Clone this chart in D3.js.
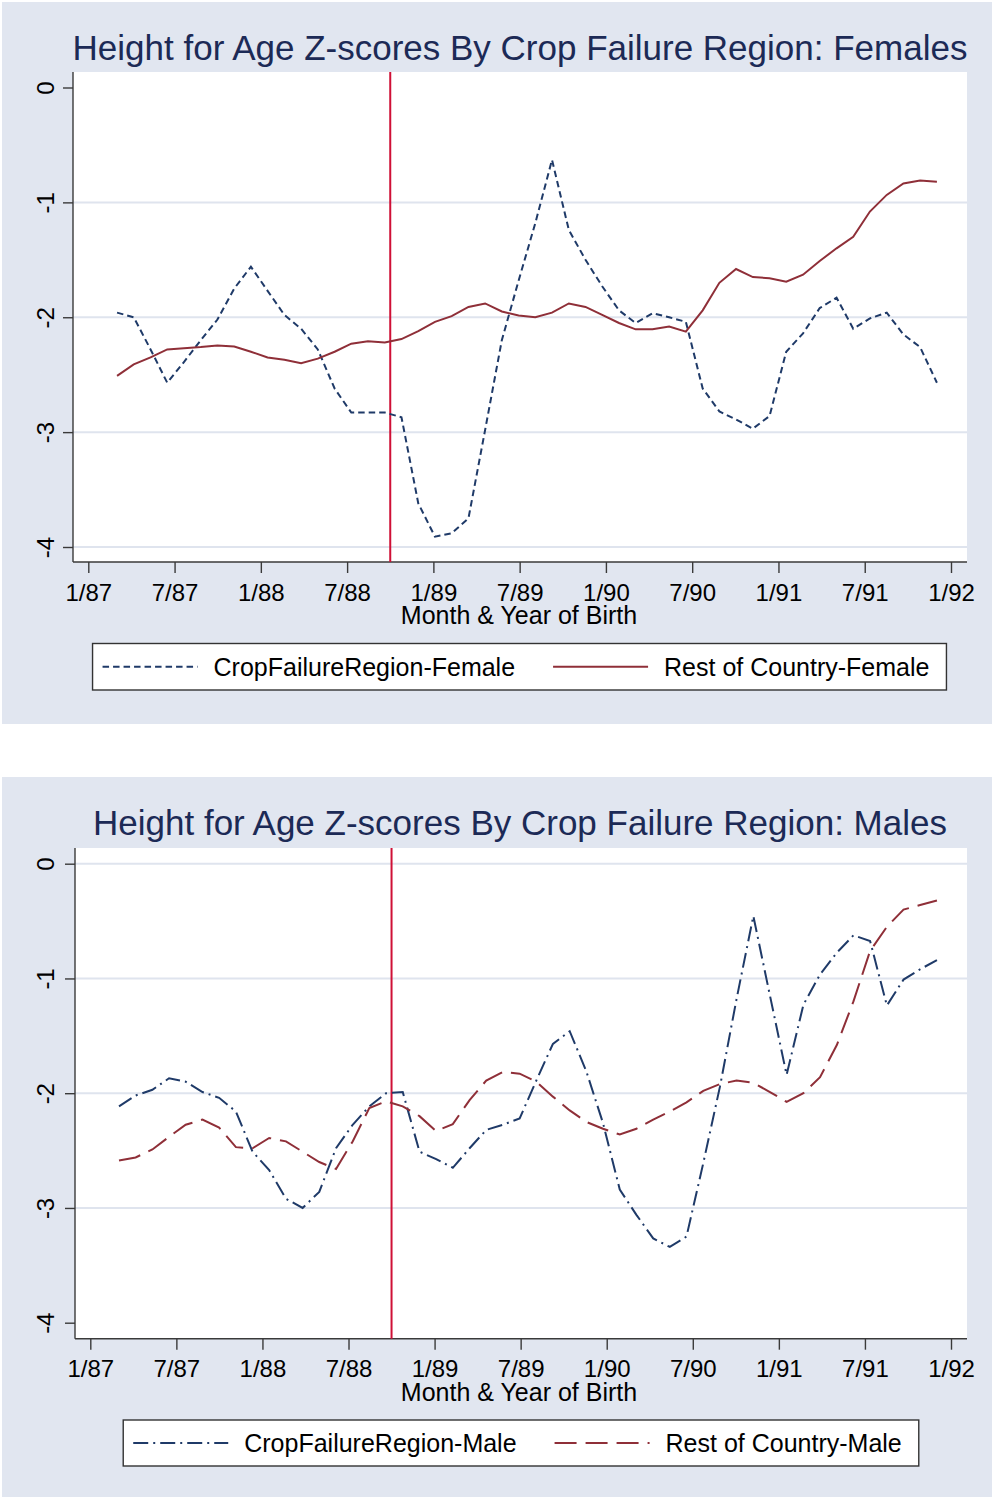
<!DOCTYPE html>
<html>
<head>
<meta charset="utf-8">
<script src="https://cdn.jsdelivr.net/npm/d3@7"></script>
<style>
  body { margin: 0; background: #fff; }
  text { font-family: "Liberation Sans", Arial, sans-serif; }
</style>
</head>
<body>
<script>
// x values: month of birth, counted in months from January 1987
const birthMonth = [2.00, 3.16, 4.33, 5.49, 6.65, 7.82, 8.98, 10.15, 11.31, 12.47,
  13.64, 14.80, 15.96, 17.13, 18.29, 19.45, 20.62, 21.78, 22.95, 24.11,
  25.27, 26.44, 27.60, 28.76, 29.93, 31.09, 32.25, 33.42, 34.58, 35.74,
  36.91, 38.07, 39.24, 40.40, 41.56, 42.73, 43.89, 45.05, 46.22, 47.38,
  48.54, 49.71, 50.87, 52.04, 53.20, 54.36, 55.53, 56.69, 57.85, 59.02];

const femaleCrop = [-1.96, -2.00, -2.28, -2.57, -2.39, -2.20, -2.02, -1.75, -1.56, -1.77,
  -1.98, -2.10, -2.28, -2.62, -2.83, -2.83, -2.83, -2.87, -3.62, -3.91,
  -3.88, -3.75, -2.98, -2.20, -1.68, -1.18, -0.63, -1.24, -1.50, -1.73,
  -1.94, -2.05, -1.965, -2.00, -2.04, -2.62, -2.82, -2.89, -2.97, -2.86,
  -2.30, -2.14, -1.92, -1.83, -2.10, -2.01, -1.96, -2.15, -2.26, -2.57];

const femaleRest = [-2.51, -2.41, -2.35, -2.28, -2.27, -2.26, -2.245, -2.255, -2.30, -2.35,
  -2.37, -2.40, -2.36, -2.30, -2.23, -2.21, -2.22, -2.19, -2.12, -2.04,
  -1.99, -1.91, -1.88, -1.95, -1.985, -2.00, -1.96, -1.88, -1.91, -1.98,
  -2.05, -2.105, -2.105, -2.08, -2.125, -1.94, -1.70, -1.58, -1.65, -1.66,
  -1.69, -1.63, -1.51, -1.40, -1.30, -1.08, -0.935, -0.835, -0.81, -0.82];

const maleCrop = [-2.115, -2.02, -1.97, -1.87, -1.90, -1.99, -2.04, -2.16, -2.51, -2.67,
  -2.92, -3.00, -2.86, -2.48, -2.275, -2.115, -2.00, -1.99, -2.51, -2.575,
  -2.65, -2.48, -2.32, -2.275, -2.22, -1.89, -1.57, -1.46, -1.81, -2.26,
  -2.84, -3.06, -3.265, -3.34, -3.25, -2.61, -1.945, -1.18, -0.456, -1.15,
  -1.84, -1.23, -0.965, -0.776, -0.624, -0.674, -1.236, -1.01, -0.92, -0.84];

const maleRest = [-2.587, -2.56, -2.49, -2.38, -2.275, -2.23, -2.30, -2.47, -2.48, -2.39,
  -2.42, -2.51, -2.60, -2.66, -2.42, -2.13, -2.07, -2.115, -2.20, -2.33,
  -2.27, -2.06, -1.89, -1.815, -1.83, -1.90, -2.03, -2.15, -2.25, -2.31,
  -2.36, -2.31, -2.23, -2.16, -2.08, -1.98, -1.92, -1.89, -1.91, -1.99,
  -2.075, -2.00, -1.86, -1.58, -1.20, -0.76, -0.55, -0.40, -0.36, -0.32];

const xTickMonths = [0, 6, 12, 18, 24, 30, 36, 42, 48, 54, 60];
const xTickLabels = ['1/87', '7/87', '1/88', '7/88', '1/89', '7/89', '1/90', '7/90', '1/91', '7/91', '1/92'];
const yTicks = [0, -1, -2, -3, -4];
const yTickLabels = ['0', '-1', '-2', '-3', '-4'];
const cutoffMonth = 21; // 10/88

const navy = '#1f3a68';
const maroon = '#8f2f38';

const svg = d3.select('body').append('svg')
  .attr('width', 992)
  .attr('height', 1499);

const panels = [
  {
    title: 'Height for Age Z-scores By Crop Failure Region: Females',
    bgY: 2, bgH: 722,
    left: 73, right: 967, top: 72, bottom: 562,
    xr: [88.3, 951], yr: [87.5, 547],
    titleY: 60, grid: [-1, -2, -3, -4],
    legendTop: 643.5, legendH: 46.5, legendCx: 519.5,
    series: [
      { name: 'CropFailureRegion-Female', values: femaleCrop, color: navy, dash: '6.5,4' },
      { name: 'Rest of Country-Female', values: femaleRest, color: maroon, dash: null }
    ]
  },
  {
    title: 'Height for Age Z-scores By Crop Failure Region: Males',
    bgY: 777, bgH: 720,
    left: 75, right: 967, top: 848, bottom: 1338.7,
    xr: [90.3, 951], yr: [863.7, 1322.7],
    titleY: 835, grid: [0, -1, -2, -3],
    legendTop: 1420, legendH: 46, legendCx: 521,
    series: [
      { name: 'CropFailureRegion-Male', values: maleCrop, color: navy, dash: '15,5,2,5' },
      { name: 'Rest of Country-Male', values: maleRest, color: maroon, dash: '22,9' }
    ]
  }
];

panels.forEach(drawPanel);

function drawPanel(p) {
  const g = svg.append('g');

  // outer (graph region) background
  g.append('rect')
    .attr('x', 2).attr('y', p.bgY)
    .attr('width', 990).attr('height', p.bgH)
    .attr('fill', '#e1e6f0');

  // plot region
  g.append('rect')
    .attr('x', p.left).attr('y', p.top)
    .attr('width', p.right - p.left).attr('height', p.bottom - p.top)
    .attr('fill', '#fff');

  const x = d3.scaleLinear().domain([0, 60]).range(p.xr);
  const y = d3.scaleLinear().domain([0, -4]).range(p.yr);

  // grid lines
  g.selectAll('.grid')
    .data(p.grid)
    .join('line')
    .attr('x1', p.left).attr('x2', p.right)
    .attr('y1', d => y(d)).attr('y2', d => y(d))
    .style('stroke', '#dfe4ee')
    .style('stroke-width', '2px');

  // title
  g.append('text')
    .attr('x', 520).attr('y', p.titleY)
    .attr('text-anchor', 'middle')
    .style('font-size', '35px')
    .style('fill', '#1c2a56')
    .text(p.title);

  // y axis
  const yAxis = g.append('g')
    .attr('transform', `translate(${p.left},0)`)
    .call(d3.axisLeft(y).tickValues(yTicks).tickSize(10).tickSizeOuter(0)
      .tickFormat((d, i) => yTickLabels[i]));
  yAxis.select('.domain').remove();
  yAxis.selectAll('.tick line').style('stroke', '#3a3a3a').style('stroke-width', '1.4px');
  yAxis.selectAll('.tick text')
    .attr('transform', 'rotate(-90)')
    .attr('x', 0).attr('dy', null)
    .attr('y', 53.5 - p.left)
    .attr('text-anchor', 'middle')
    .style('font-size', '24px')
    .style('font-family', '"Liberation Sans", Arial, sans-serif')
    .style('fill', '#000');

  // x axis
  const xAxis = g.append('g')
    .attr('transform', `translate(0,${p.bottom})`)
    .call(d3.axisBottom(x).tickValues(xTickMonths).tickSize(11).tickSizeOuter(0)
      .tickFormat((d, i) => xTickLabels[i]));
  xAxis.select('.domain').remove();
  xAxis.selectAll('.tick line').style('stroke', '#3a3a3a').style('stroke-width', '1.4px');
  xAxis.selectAll('.tick text')
    .attr('y', 38.5).attr('dy', null)
    .style('font-size', '24px')
    .style('font-family', '"Liberation Sans", Arial, sans-serif')
    .style('fill', '#000');

  // axis lines
  g.append('line')
    .attr('x1', p.left).attr('x2', p.left)
    .attr('y1', p.top).attr('y2', p.bottom)
    .style('stroke', '#3a3a3a').style('stroke-width', '1.4px');
  g.append('line')
    .attr('x1', p.left).attr('x2', p.right)
    .attr('y1', p.bottom).attr('y2', p.bottom)
    .style('stroke', '#3a3a3a').style('stroke-width', '1.4px');

  // axis title
  g.append('text')
    .attr('x', 519).attr('y', p.bottom + 62)
    .attr('text-anchor', 'middle')
    .style('font-size', '25px')
    .text('Month & Year of Birth');

  // cutoff line
  g.append('line')
    .attr('x1', x(cutoffMonth)).attr('x2', x(cutoffMonth))
    .attr('y1', p.top).attr('y2', p.bottom)
    .style('stroke', '#cf1036')
    .style('stroke-width', '2px');

  // series
  const line = d3.line()
    .x((d, i) => x(birthMonth[i]))
    .y(d => y(d));

  p.series.forEach(s => {
    g.append('path')
      .datum(s.values)
      .attr('d', line)
      .attr('fill', 'none')
      .style('stroke', s.color)
      .style('stroke-width', '2px')
      .style('stroke-dasharray', s.dash);
  });

  // legend
  const leg = g.append('g');
  const box = leg.append('rect')
    .attr('fill', '#fff')
    .style('stroke', '#333')
    .style('stroke-width', '1.4px');
  let cx = 10;
  const midY = p.legendTop + p.legendH / 2;
  const items = leg.append('g');
  p.series.forEach((s, i) => {
    if (i > 0) cx += 38;
    items.append('line')
      .attr('x1', cx).attr('x2', cx + 95)
      .attr('y1', midY).attr('y2', midY)
      .style('stroke', s.color)
      .style('stroke-width', '2px')
      .style('stroke-dasharray', s.dash);
    cx += 95 + 16;
    const t = items.append('text')
      .attr('x', cx).attr('y', midY + 9)
      .style('font-size', '25px')
      .text(s.name);
    cx += t.node().getComputedTextLength();
  });
  const w = cx + 17;
  const x0 = p.legendCx - w / 2;
  items.attr('transform', `translate(${x0},0)`);
  box.attr('x', x0).attr('y', p.legendTop)
    .attr('width', w).attr('height', p.legendH);
}
</script>
</body>
</html>
